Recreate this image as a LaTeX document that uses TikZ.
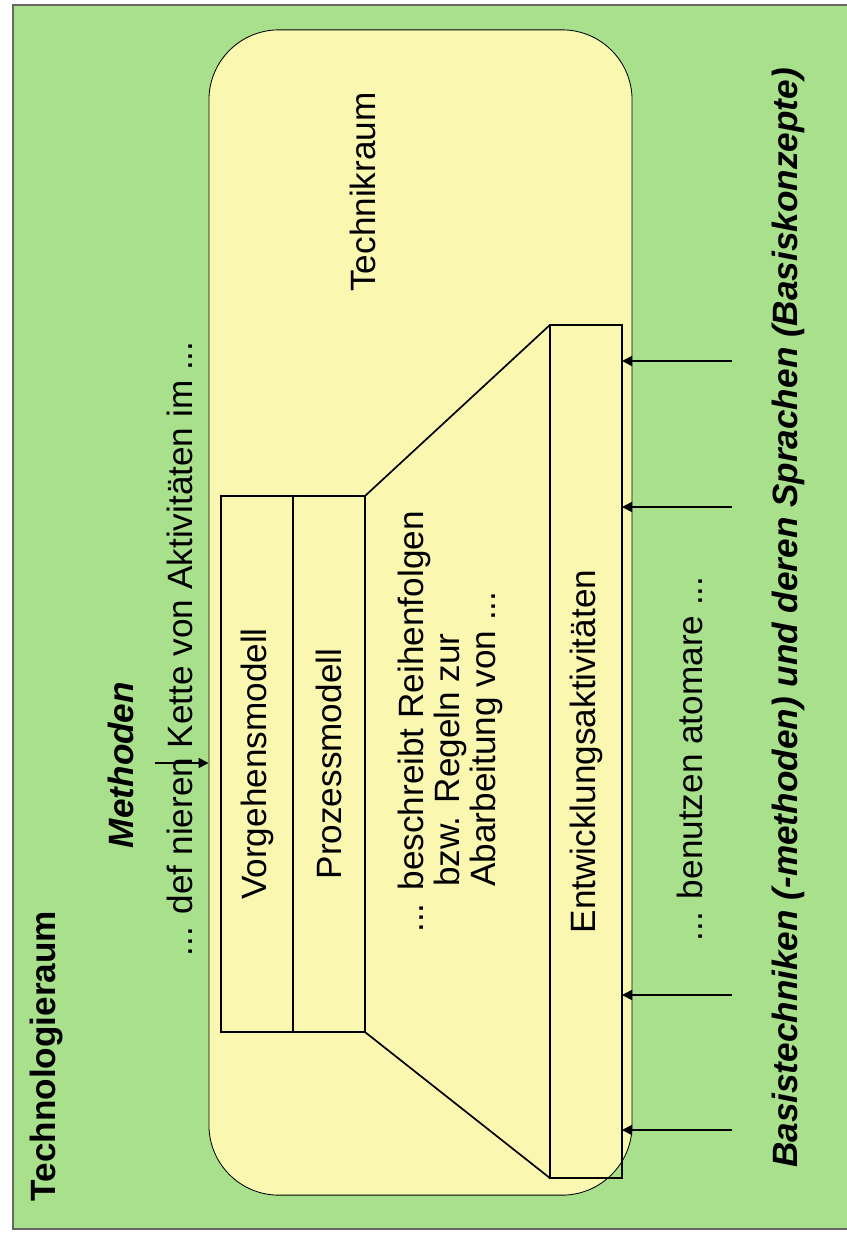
\documentclass[tikz,border=0pt]{standalone}
\usepackage{fontspec}
\setmainfont{Liberation Sans}
\usepackage{graphicx}
\usetikzlibrary{arrows,arrows.meta,positioning}
\definecolor{raumgruen}{RGB}{168,224,140}
\definecolor{raumgelb}{RGB}{250,248,176}
\tikzset{technologie/.style={
    % The shape:
    rectangle,
    % The size:
    minimum width=20.975cm,
    minimum height=30.6cm,
    % The border:
    line width=1.4pt,
    draw=black!60,
    % The filling:
    fill=raumgruen,
    },
    technik/.style={
    rectangle,rounded corners=1.75cm,
    minimum width=10.575cm,
    minimum height=29.125cm,
    line width=0.6pt,
    draw=black,
    fill=raumgelb,
    },
    modell/.style={
    rectangle,
    minimum width=1.8cm,
    outer sep=0pt,
    line width=1.2pt,
    draw=black,
    font=\fontsize{25}{30}\selectfont,
    },
    schrift/.style={
    rotate=90, anchor=base, inner sep=0pt,
    font=\fontsize{25}{30}\selectfont,
    },
    fett/.style={
    schrift,
    font=\fontsize{25}{30}\selectfont\bfseries,
    },
    fettkursiv/.style={
    schrift,
    font=\fontsize{25}{30}\selectfont\bfseries\itshape,
    },
    pfeil/.style={-{Triangle[length=2.5mm,width=2.5mm]}, line width=1.2pt},
}

\begin{document}
\begin{tikzpicture}[x=0.025cm, y=-0.025cm, node distance = 0mm and 0mm]
    \useasboundingbox (0,0) rectangle (847,1238);
    \node (technologie) [technologie] at (432.5,617) {};
    \node (technik)     [technik]     at (420.5,612.5) {};

    \node (vorgehen)    [modell,minimum height=13.4cm] at (257,764) {\rotatebox{90}{Vorgehensmodell}};
    \node (prozess)     [modell,minimum height=13.4cm,right=of vorgehen] {\rotatebox{90}{Prozessmodell}};
    \node (entwicklung) [modell,minimum height=21.325cm] at (586,751.5) {\rotatebox{90}{Entwicklungsaktivitäten}};
    \draw[line width=1.2pt] (prozess.north east) -- (entwicklung.north west);
    \draw[line width=1.2pt] (prozess.south east) -- (entwicklung.south west);

    \node (technologieraum) [fett]       at (55,1056) {Technologieraum};
    \node (methoden)        [fettkursiv] at (133,765) {Methoden};
    \node (kette)           [schrift]    at (192,649) {... def nieren Kette von Aktivitäten im ...};
    \node (technikraum)     [schrift]    at (375,192) {Technikraum};
    \node (regeln1) [schrift,anchor=base west] at (423,933) {... beschreibt Reihenfolgen};
    \node (regeln2) [schrift,anchor=base west] at (459,887) {bzw. Regeln zur};
    \node (regeln3) [schrift,anchor=base west] at (495,887) {Abarbeitung von ...};
    \node (atomar)          [schrift]    at (702,759) {... benutzen atomare ...};
    \node (basis)           [fettkursiv] at (797,618) {Basistechniken (-methoden) und deren Sprachen (Basiskonzepte)};

    \coordinate (methodenpfeil) at (155,763);
    \draw[pfeil] (methodenpfeil) -- (methodenpfeil -| technik.west);
    \foreach \y/\n in {361/a,507/b,995/c,1130/d}{
      \coordinate (basis\n) at (732,\y);
      \draw[pfeil] (basis\n) -- (basis\n -| entwicklung.east);
    }
\end{tikzpicture}
\end{document}
